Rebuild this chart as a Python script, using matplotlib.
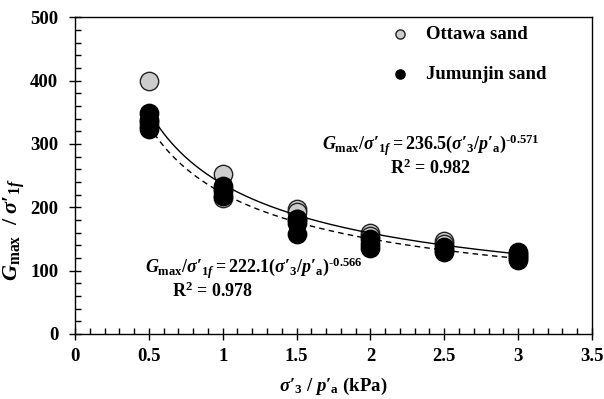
import numpy as np
import matplotlib
matplotlib.use('Agg')
import matplotlib.pyplot as plt
from matplotlib.ticker import MultipleLocator, FuncFormatter

plt.rcParams['font.family'] = ['Liberation Serif', 'DejaVu Serif']
plt.rcParams['font.weight'] = 'bold'
plt.rcParams['axes.labelweight'] = 'bold'
plt.rcParams['mathtext.fontset'] = 'custom'
plt.rcParams['mathtext.rm'] = 'Liberation Serif:bold'
plt.rcParams['mathtext.bf'] = 'Liberation Serif:bold'
plt.rcParams['mathtext.it'] = 'Liberation Serif:italic:bold'

# measured points, sigma'3/p'a vs Gmax/sigma'1f
x_ottawa = [0.5, 0.5, 0.5, 1.0, 1.0, 1.0, 1.5, 1.5, 1.5, 2.0, 2.0, 2.5, 2.5, 3.0, 3.0]
g_ottawa = [399, 335, 328, 252, 228, 215, 197, 192, 182, 159, 155, 146, 142, 126, 120]

x_jumunjin = [0.5, 0.5, 0.5, 1.0, 1.0, 1.0, 1.5, 1.5, 1.5, 2.0, 2.0, 2.0, 2.5, 2.5, 2.5, 3.0, 3.0, 3.0]
g_jumunjin = [348, 338, 324, 234, 226, 218, 182, 175, 157, 150, 142, 135, 138, 133, 129, 130, 123, 116]

# power-law fits: a * x ** b, with R^2
fit_ottawa = (236.5, -0.571, 0.982)
fit_jumunjin = (222.1, -0.566, 0.978)

# prime sign and hyphen drawn as plain glyphs (mathtext would turn ' into a
# superscript and - into a wide minus)
PR = '\u2032'
HY = '\u2010'

fig = plt.figure(figsize=(6.04, 3.99), dpi=100)
ax = fig.add_axes([0.1242, 0.163, 0.8558, 0.794])

xs = np.linspace(0.5, 3.0, 200)

ax.scatter(x_ottawa, g_ottawa, s=175, c='#cccccc', edgecolors='#222222',
           linewidths=1.0, zorder=2, label='Ottawa sand')
ax.plot(xs, fit_ottawa[0] * xs ** fit_ottawa[1], color='black', lw=1.0, zorder=3)
ax.plot(xs, fit_jumunjin[0] * xs ** fit_jumunjin[1], color='black', lw=1.0,
        ls=(0, (4, 3)), zorder=3)
ax.scatter(x_jumunjin, g_jumunjin, s=175, c='black', edgecolors='black',
           linewidths=1.0, zorder=4, label='Jumunjin sand')

ax.set_xlim(0, 3.5)
ax.set_ylim(0, 500)
ax.xaxis.set_major_locator(MultipleLocator(0.5))
ax.xaxis.set_minor_locator(MultipleLocator(0.1))
ax.yaxis.set_major_locator(MultipleLocator(100))
ax.yaxis.set_minor_locator(MultipleLocator(20))
ax.xaxis.set_major_formatter(FuncFormatter(lambda v, p: f'{v:g}'))
ax.tick_params(which='major', direction='inout', length=8, width=1, labelsize=13.5)
ax.tick_params(which='minor', direction='in', length=4, width=1)
ax.tick_params(axis='y', which='major', pad=8)
ax.tick_params(axis='x', which='major', pad=6)
for s in ax.spines.values():
    s.set_linewidth(1.0)

sig1f = r"\sigma\mathrm{%s}_{1f}" % PR
sig3 = r"\sigma\mathrm{%s}_{3}" % PR
pa = r"p\mathrm{%s}_{\mathrm{a}}" % PR


def fit_label(a, b):
    expo = r"\mathrm{%s}%.3f" % (HY, abs(b)) if b < 0 else "%.3f" % b
    return r"$G_{\mathrm{max}}/%s = %.1f(%s/%s)^{%s}$" % (sig1f, a, sig3, pa, expo)


ax.text(2.405, 298, fit_label(*fit_ottawa[:2]), ha='center', va='center', fontsize=13)
ax.text(2.405, 261, r"R$^{2}$ = %.3f" % fit_ottawa[2], ha='center', va='center', fontsize=13)
ax.text(1.21, 103, fit_label(*fit_jumunjin[:2]), ha='center', va='center', fontsize=13)
ax.text(0.93, 67, r"R$^{2}$ = %.3f" % fit_jumunjin[2], ha='center', va='center', fontsize=13)

ax.set_xlabel(r"$%s$ / $%s$ (kPa)" % (sig3, pa), fontsize=13.5, labelpad=8)
ax.set_ylabel(r"$G_{\mathrm{max}}$  / $%s$" % sig1f, fontsize=16)
ax.yaxis.set_label_coords(-0.093, 0.33)

leg = ax.legend(loc='upper left', bbox_to_anchor=(0.56, 1.025), frameon=False,
                markerscale=0.5, fontsize=13.5, labelspacing=1.2, handletextpad=0.4)

fig.savefig('out.png', dpi=100)
